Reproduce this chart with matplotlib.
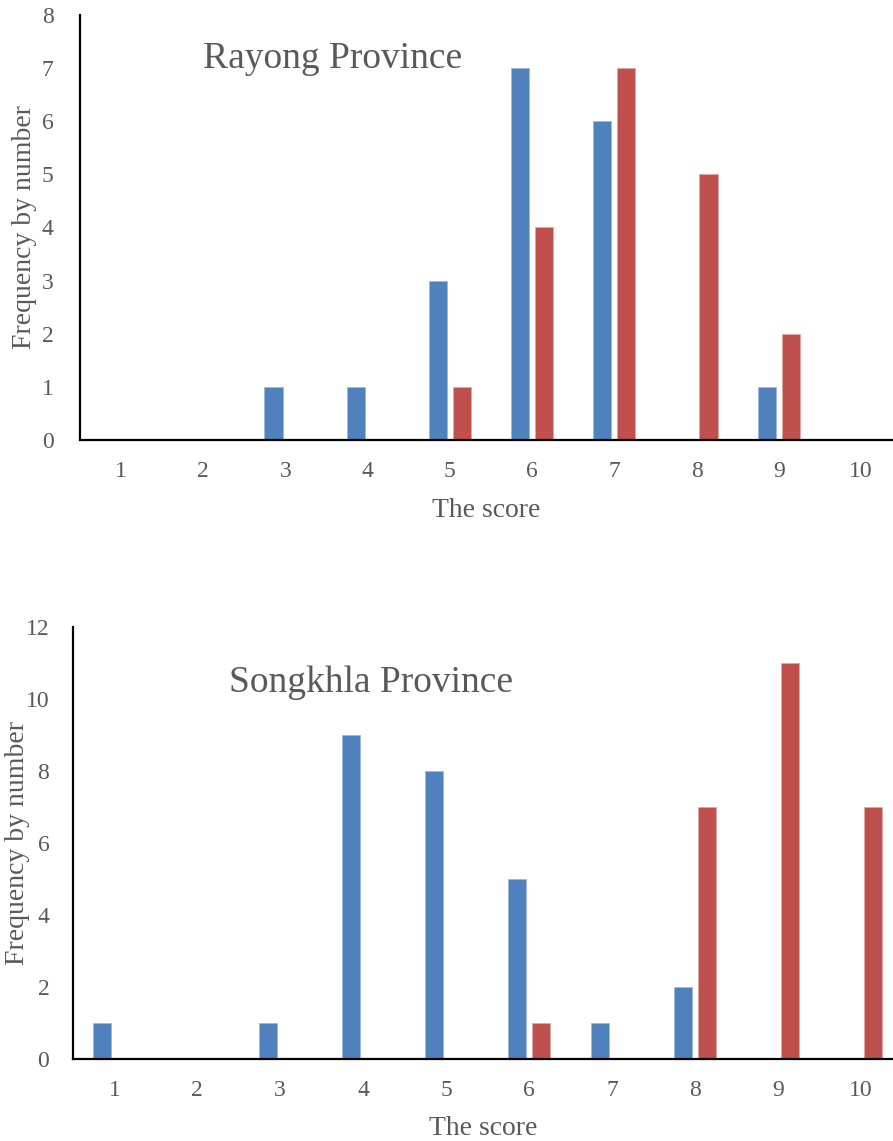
import matplotlib.pyplot as plt
import numpy as np

# scores 1..10
scores = [1, 2, 3, 4, 5, 6, 7, 8, 9, 10]

# Rayong Province
rayong_blue = [0, 0, 1, 1, 3, 7, 6, 0, 1, 0]
rayong_red = [0, 0, 0, 0, 1, 4, 7, 5, 2, 0]

# Songkhla Province
songkhla_blue = [1, 0, 1, 9, 8, 5, 1, 2, 0, 0]
songkhla_red = [0, 0, 0, 0, 0, 1, 0, 7, 11, 7]

blue = "#4F81BD"
red = "#C0504D"
gray = "#595959"

plt.rcParams['font.family'] = ['Liberation Serif', 'DejaVu Serif']

fig = plt.figure(figsize=(8.93, 11.41), dpi=100)
ax1 = fig.add_axes([0.0896, 0.6144, 0.9104, 0.3725])
ax2 = fig.add_axes([0.0817, 0.0719, 0.9183, 0.3786])


def draw(ax, b, r, ymax, ystep, title, tx, ty, ylx, xly, ypad):
    x = np.array(scores)
    w = 0.22
    off = 0.146
    ax.bar(x - off, b, width=w, color=blue, edgecolor="#9DB9DC", linewidth=0.6)
    ax.bar(x + off, r, width=w, color=red, edgecolor="#E2A6A4", linewidth=0.6)
    ax.set_xlim(0.5, 10.39)
    ax.set_ylim(0, ymax)
    ax.set_xticks(scores)
    ax.set_yticks(np.arange(0, ymax + 1, ystep))
    ax.tick_params(length=0, labelsize=17, labelcolor=gray)
    ax.tick_params(axis="x", pad=15)
    ax.tick_params(axis="y", pad=ypad)
    for s in ["top", "right"]:
        ax.spines[s].set_visible(False)
    for s in ["left", "bottom"]:
        ax.spines[s].set_linewidth(1.6)
        ax.spines[s].set_color("black")
    ax.set_xlabel("The score", fontsize=20, color=gray)
    ax.set_ylabel("Frequency by number", fontsize=20, color=gray)
    ax.yaxis.set_label_coords(ylx, 0.5)
    ax.xaxis.set_label_coords(0.5, xly)
    ax.text(tx, ty, title, transform=ax.transAxes, fontsize=27, color=gray,
            va="center", ha="left")


draw(ax1, rayong_blue, rayong_red, 8, 1, "Rayong Province", 0.151, 0.898, -0.053, -0.136, 19)
draw(ax2, songkhla_blue, songkhla_red, 12, 2, "Songkhla Province", 0.19, 0.872, -0.052, -0.132, 17)

plt.savefig("out.png", dpi=100)
